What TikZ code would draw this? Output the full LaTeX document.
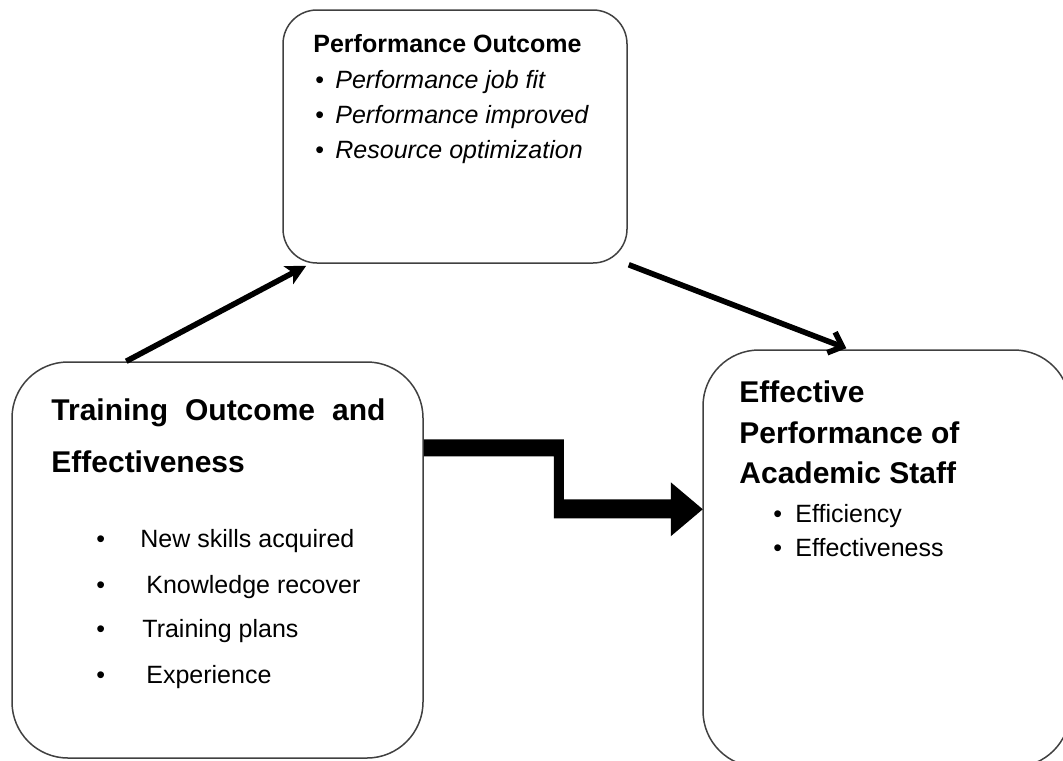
\documentclass[tikz,border=0pt]{standalone}
\usepackage{fontspec}
\setmainfont{Liberation Sans}
\usetikzlibrary{arrows.meta,calc}

\begin{document}
\begin{tikzpicture}[
	x=0.5pt, y=-0.5pt, % one unit = one pixel of the sketch
	box/.style={
		draw=black!75, line width=0.75pt, rounded corners=#1,
		inner sep=0pt
	},
	box/.default=20pt,
	bighead/.style={anchor=base west, inner sep=0pt, font=\fontsize{15}{18}\selectfont\bfseries},
	smallhead/.style={anchor=base west, inner sep=0pt, font=\fontsize{12.5}{15}\selectfont\bfseries},
	entry/.style={anchor=base west, inner sep=0pt, font=\fontsize{12.5}{15}\selectfont},
	link/.style={line width=2.8pt}
	]
	\useasboundingbox (0,0) rectangle (1063,760);
	
	% Top: Performance Outcome
	\node[box=17pt, minimum width=172pt, minimum height=126.5pt] (perf) at (455,136.5) {};
	\node[smallhead] (perfhead) at (313,52) {Performance Outcome};
	\node[entry] (perf1) at (315,88) {\makebox[10pt][l]{\textbullet}\textit{Performance job fit}};
	\node[entry] (perf2) at (315,123) {\makebox[10pt][l]{\textbullet}\textit{Performance improved}};
	\node[entry] (perf3) at (315,158) {\makebox[10pt][l]{\textbullet}\textit{Resource optimization}};
	
	% Left: Training Outcome
	\node[box=28pt, minimum width=205.5pt, minimum height=198pt] (train) at (217.5,560) {};
	\node[bighead] (trainhead1) at (51,420) {\makebox[167pt][s]{Training Outcome and}};
	\node[bighead] (trainhead2) at (51,472) {Effectiveness};
	\node[entry] (train1) at (96,547) {\makebox[22pt][l]{\textbullet}New skills acquired};
	\node[entry] (train2) at (96,593) {\makebox[25pt][l]{\textbullet}Knowledge recover};
	\node[entry] (train3) at (96,637) {\makebox[23pt][l]{\textbullet}Training plans};
	\node[entry] (train4) at (96,683) {\makebox[25pt][l]{\textbullet}Experience};
	
	% Right: Effective Performance
	\node[box=28pt, minimum width=183.5pt, minimum height=208.5pt] (eff) at (886.5,558.5) {};
	\node[bighead] (effhead1) at (739,402) {Effective};
	\node[bighead] (effhead2) at (739,443) {Performance of};
	\node[bighead] (effhead3) at (739,483) {Academic Staff};
	\node[entry] (eff1) at (773,522) {\makebox[11pt][l]{\textbullet}Efficiency};
	\node[entry] (eff2) at (773,556) {\makebox[11pt][l]{\textbullet}Effectiveness};
	
	% Arrows
	\draw[link, -{Stealth[length=10pt, width=10pt, inset=2.5pt]}]
		($(train.north west)+(115,0)$) -- ($(perf.south west)+(24,2)$);
	\draw[link, -{Straight Barb[length=6pt, width=11pt]}]
		($(perf.south east)+(1,1)$) -- ($(eff.north west)+(144,-1)$);
	
	% Wide stepped arrow
	\fill (train.north east) ++(0,78) -- ++(140,0) -- ++(0,60) -- ++(107,0)
		-- ++(0,-17) -- ++(32,27) -- ++(-32,27) -- ++(0,-18) -- ++(-117,0)
		-- ++(0,-62) -- ++(-130,0) -- cycle;
	
\end{tikzpicture}
\end{document}
